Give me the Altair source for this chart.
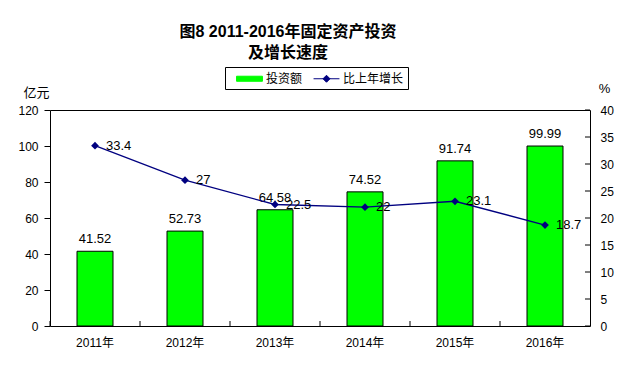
import altair as alt
import pandas as pd

years = ["2011年", "2012年", "2013年", "2014年", "2015年", "2016年"]
invest = [41.52, 52.73, 64.58, 74.52, 91.74, 99.99]
growth = [33.4, 27, 22.5, 22, 23.1, 18.7]
left_ticks = [0, 20, 40, 60, 80, 100, 120]
right_ticks = [0, 5, 10, 15, 20, 25, 30, 35, 40]
series = ["投资额", "比上年增长"]

df = pd.DataFrame({"year": years, "invest": invest, "growth": growth})
rt = pd.DataFrame({"v": right_ticks})

FONT = "Liberation Sans, Arial, Noto Sans CJK SC"
CJK = "Liberation Sans, Noto Sans CJK SC"

xscale = alt.Scale(paddingInner=0.6, paddingOuter=0.3)
xenc = alt.X(
    "year:N", sort=years, scale=xscale,
    axis=alt.Axis(title=None, labelAngle=0, ticks=False, domain=False,
                  labelPadding=11, labelFontSize=12, labelFont=CJK,
                  labelColor="black"),
)

left_axis = alt.Axis(values=left_ticks, orient="left", title="亿元", titleAngle=0,
                     titleX=-14, titleY=-18, titleAlign="center", titleBaseline="middle",
                     titleFontWeight="normal", titleFontSize=13, titleFont=CJK,
                     grid=False, domain=False, tickSize=6, tickColor="black",
                     labelPadding=6, labelFontSize=12, labelFont=FONT, labelColor="black")
right_axis = alt.Axis(values=right_ticks, orient="right", title="%", titleAngle=0,
                      titleX=14, titleY=-22, titleAlign="center", titleBaseline="middle",
                      titleFontWeight="normal", titleFontSize=13, titleFont=FONT,
                      grid=False, domain=False, ticks=False,
                      labelPadding=10, labelFontSize=12, labelFont=FONT, labelColor="black")

sym_cond = "datum.value === '投资额'"
legend = alt.Legend(
    title=None, orient="none", legendX=175, legendY=-43, direction="horizontal",
    strokeColor="black", fillColor="white", padding=4,
    symbolSize=196, symbolOffset=13, labelOffset=9, columnPadding=3,
    labelFont=CJK, labelFontSize=12, labelColor="black",
    symbolType=alt.ExprRef(expr=sym_cond + " ? 'M-1.85,-0.36H1.85V0.36H-1.85Z' : 'M-1.85,0H1.85M0,-0.5L0.5,0L0,0.5L-0.5,0Z'"),
    symbolFillColor=alt.ExprRef(expr=sym_cond + " ? '#00FF00' : '#000080'"),
    symbolStrokeColor=alt.ExprRef(expr=sym_cond + " ? '#000000' : '#000080'"),
    symbolStrokeWidth=1,
    symbolOpacity=1,
)
cscale = alt.Scale(domain=series, range=["#00FF00", "#000080"])

yl = alt.Scale(domain=[0, 120], nice=False)
yr = alt.Scale(domain=[0, 40], nice=False)

base = alt.Chart(df)

bars = base.transform_calculate(series="'投资额'").mark_bar(stroke="black", strokeWidth=1).encode(
    x=xenc,
    y=alt.Y("invest:Q", scale=yl, axis=left_axis),
    color=alt.Color("series:N", scale=cscale, legend=legend),
)
bar_labels = base.mark_text(dy=-8, baseline="alphabetic", align="center",
                            fontSize=13, font=FONT, color="black").encode(
    x=xenc,
    y=alt.Y("invest:Q", scale=yl, axis=left_axis),
    text=alt.Text("invest:Q", format=".2f"),
)
left_layer = alt.layer(bars, bar_labels)

line = base.transform_calculate(series="'比上年增长'").mark_line(strokeWidth=1.3).encode(
    x=xenc,
    y=alt.Y("growth:Q", scale=yr, axis=right_axis),
    color=alt.Color("series:N", scale=cscale, legend=legend),
)
points = base.mark_point(shape="diamond", filled=True, size=60,
                         color="#000080", opacity=1).encode(
    x=xenc,
    y=alt.Y("growth:Q", scale=yr, axis=right_axis),
)
line_labels = base.mark_text(dx=11, align="left", baseline="middle",
                             fontSize=13, font=FONT, color="black").encode(
    x=xenc,
    y=alt.Y("growth:Q", scale=yr, axis=right_axis),
    text=alt.Text("growth:Q"),
)
rticks = alt.Chart(rt).mark_rule(color="black", strokeWidth=1).encode(
    x=alt.value(535), x2=alt.value(540),
    y=alt.Y("v:Q", scale=yr, axis=right_axis),
)
xticks = base.mark_rule(color="black", strokeWidth=1, xOffset=-27).encode(
    x=alt.X("year:N", sort=years, bandPosition=0, scale=xscale),
    y=alt.value(211), y2=alt.value(216),
)
right_layer = alt.layer(line, points, line_labels, rticks, xticks)

chart = alt.layer(left_layer, right_layer).resolve_scale(y="independent").properties(
    width=540, height=216,
    autosize=alt.AutoSizeParams(type="none"),
    padding={"left": 50, "top": 110, "right": 52, "bottom": 50},
    background="white",
    title=alt.TitleParams(
        text=["图8 2011-2016年固定资产投资", "及增长速度"],
        font=CJK, fontSize=16, fontWeight="bold", color="black",
        anchor="middle", frame="group", dx=-32, offset=6, lineHeight=21,
    ),
).configure_view(stroke="black", strokeWidth=1)

chart.save("out.html", embed_options={"renderer": "svg", "actions": False})
